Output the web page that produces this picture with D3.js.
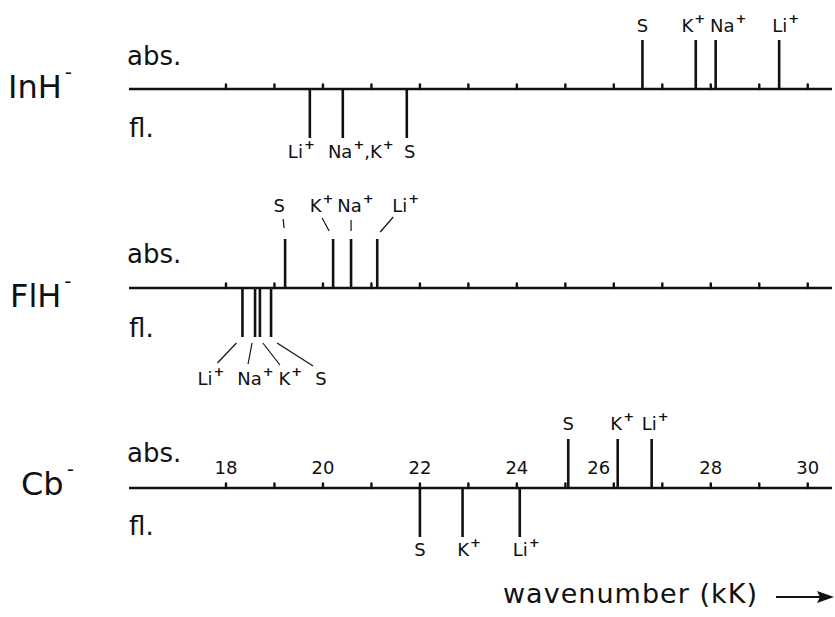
<!DOCTYPE html>
<html>
<head>
<meta charset="utf-8">
<script src="https://cdn.jsdelivr.net/npm/d3@7"></script>
<style>
  html, body { margin: 0; padding: 0; background: #fff; }
  svg { display: block; }
  text { font-family: "DejaVu Sans", sans-serif; fill: #111; }
</style>
</head>
<body>
<svg id="chart" width="835" height="617"></svg>
<script>
// ---------------- DATA ----------------
const compounds = ["InH", "FlH", "Cb"];
const minorTicks = [18, 19, 20, 21, 22, 23, 24, 25, 26, 27, 28, 29, 30];
const tickLabels = ["18", "20", "22", "24", "26", "28", "30"];

// wavenumber (kK) of absorption (up) and fluorescence (down) maxima
const inhAbsIons   = ["S", "K", "Na", "Li"];
const inhAbsValues = [26.59, 27.69, 28.10, 29.41];
const inhFlIons    = ["Li", "Na,K", "S"];
const inhFlValues  = [19.73, 20.41, 21.73];

const flhAbsIons   = ["S", "K", "Na", "Li"];
const flhAbsValues = [19.22, 20.21, 20.58, 21.12];
const flhFlIons    = ["Li", "Na", "K", "S"];
const flhFlValues  = [18.34, 18.60, 18.70, 18.93];

const cbAbsIons    = ["S", "K", "Li"];
const cbAbsValues  = [25.06, 26.08, 26.78];
const cbFlIons     = ["S", "K", "Li"];
const cbFlValues   = [22.00, 22.88, 24.06];

// ---------------- LAYOUT ----------------
const svg = d3.select("#chart");
const x = d3.scaleLinear().domain([16, 30.5]).range([129, 832]);
const h = d3.scaleLinear().domain([0, 1]).range([0, 49]);

const rows = [
  { name: compounds[0], axisY: 89, nameX: 8, nameBase: 98, absBase: 65, flBase: 137,
    abs: { ions: inhAbsIons, vals: inhAbsValues, base: -57, dx: [0, -3, 12, 6] },
    fl:  { ions: inhFlIons, vals: inhFlValues, base: 69, dx: [-9, 17, 3] } },
  { name: compounds[1], axisY: 288, nameX: 10, nameBase: 307, absBase: 263, flBase: 337,
    abs: { ions: flhAbsIons, vals: flhAbsValues, base: -76, dx: [-6, -12, 4, 28],
           lead: [[-2, -69, -1, -60], [-11, -70, -4, -57], [0, -68, 0, -57], [16, -71, 3, -56]] },
    fl:  { ions: flhFlIons, vals: flhFlValues, base: 97, dx: [-32, 0, 30, 50],
           lead: [[-6, 55, -25, 75], [-3, 55, -7, 76], [3, 55, 20, 77], [6, 55, 42, 78]] } },
  { name: compounds[2], axisY: 488, nameX: 21, nameBase: 495, absBase: 462, flBase: 535,
    abs: { ions: cbAbsIons, vals: cbAbsValues, base: -58, dx: [0, 4, 3] },
    fl:  { ions: cbFlIons, vals: cbFlValues, base: 68, dx: [0, 6, 6] } }
];

function ionLabel(g, txt, cx, baseY) {
  const t = g.append("text").attr("y", baseY).attr("font-size", 18);
  const parts = txt.split(",");
  parts.forEach((p, i) => {
    if (i > 0) t.append("tspan").attr("dy", 9).text(",");
    t.append("tspan").text(p);
    if (p !== "S") {
      t.append("tspan").attr("dy", -9).attr("dx", 1).attr("font-size", 13)
        .attr("font-weight", "bold").text("+");
    }
  });
  const w = t.node().getComputedTextLength();
  t.attr("x", cx - w / 2);
}

rows.forEach(r => {
  const g = svg.append("g");
  g.append("line").attr("x1", x(16)).attr("x2", x(30.5))
    .attr("y1", r.axisY).attr("y2", r.axisY)
    .attr("stroke", "#111").attr("stroke-width", 2.6);
  g.selectAll(".tk").data(minorTicks).enter().append("line")
    .attr("x1", d => x(d)).attr("x2", d => x(d))
    .attr("y1", r.axisY).attr("y2", r.axisY - 4.5)
    .attr("stroke", "#111").attr("stroke-width", 2.4).attr("stroke-linecap", "round");

  const nt = g.append("text").attr("x", r.nameX).attr("y", r.nameBase).attr("font-size", 32);
  nt.append("tspan").text(r.name);
  nt.append("tspan").attr("dx", 3).attr("dy", -19).attr("font-size", 20).text("-");
  g.append("text").attr("x", 127).attr("y", r.absBase).attr("font-size", 26).text("abs.");
  g.append("text").attr("x", 129).attr("y", r.flBase).attr("font-size", 26).text("fl.");

  g.selectAll(".ab").data(r.abs.vals).enter().append("line")
    .attr("x1", d => x(d)).attr("x2", d => x(d))
    .attr("y1", r.axisY).attr("y2", r.axisY - h(1))
    .attr("stroke", "#111").attr("stroke-width", 2.6);
  g.selectAll(".fl").data(r.fl.vals).enter().append("line")
    .attr("x1", d => x(d)).attr("x2", d => x(d))
    .attr("y1", r.axisY).attr("y2", r.axisY + h(1))
    .attr("stroke", "#111").attr("stroke-width", 2.6);

  [r.abs, r.fl].forEach(s => {
    s.ions.forEach((ion, i) => {
      const lx = x(s.vals[i]);
      ionLabel(g, ion, lx + s.dx[i], r.axisY + s.base);
      if (s.lead) {
        const L = s.lead[i];
        g.append("line").attr("x1", lx + L[0]).attr("y1", r.axisY + L[1])
          .attr("x2", lx + L[2]).attr("y2", r.axisY + L[3])
          .attr("stroke", "#111").attr("stroke-width", 1.2);
      }
    });
  });
});

const labOffset = { "26": -15 };
svg.selectAll(".tl").data(tickLabels).enter().append("text")
  .attr("x", d => x(+d) + (labOffset[d] || 0))
  .attr("y", 474).attr("text-anchor", "middle").attr("font-size", 18)
  .text(d => d);

svg.append("text").attr("x", 503).attr("y", 603).attr("font-size", 27)
  .attr("textLength", 254).text("wavenumber (kK)");
svg.append("line").attr("x1", 776).attr("x2", 822).attr("y1", 597).attr("y2", 597)
  .attr("stroke", "#111").attr("stroke-width", 2);
svg.append("path").attr("d", "M834,597 L817,591 L820,597 L817,603 Z").attr("fill", "#111");
</script>
</body>
</html>
